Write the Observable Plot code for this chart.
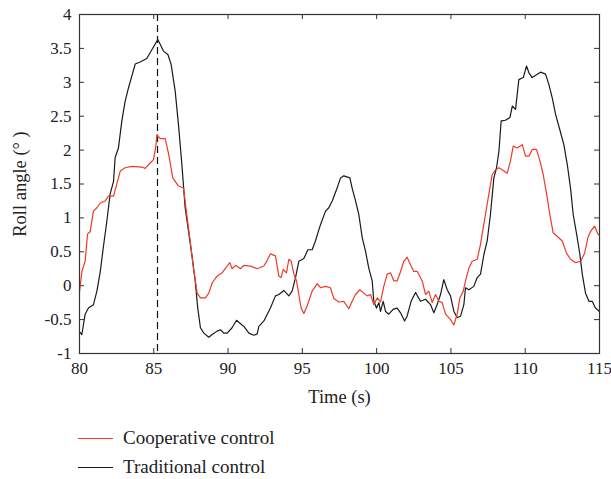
<!DOCTYPE html>
<html>
<head>
<meta charset="utf-8">
<script src="https://cdn.jsdelivr.net/npm/d3@7"></script>
<script src="https://cdn.jsdelivr.net/npm/@observablehq/plot@0.6"></script>
<style>
  html, body { margin: 0; padding: 0; background: #fff; }
  #wrap { position: relative; width: 611px; height: 479px; font-family: "Liberation Serif", "DejaVu Serif", serif; }
  .leg { position: absolute; left: 78px; font-size: 19px; color: #222; display: flex; align-items: center; line-height: 20px; }
  .leg .sw { width: 35px; height: 0; border-top: 1.3px solid; margin-right: 10px; }
  svg [aria-label="x-axis label"], svg [aria-label="y-axis label"] { font-size: 18.5px; }
</style>
</head>
<body>
<div id="wrap">
  <div id="chart"></div>
</div>
<script>
// Time (s) and roll angle (°)
const coopTime = [80.0,80.16,80.38,80.54,80.72,80.94,81.17,81.4,81.73,81.95,82.29,82.5,82.74,83.07,83.52,84.2,84.42,84.76,84.98,85.14,85.21,85.43,85.77,86.0,86.28,86.66,87.0,87.22,87.45,87.67,87.92,88.14,88.48,88.7,88.93,89.26,89.6,89.83,90.12,90.27,90.5,90.84,91.06,91.51,91.96,92.41,92.63,92.85,93.19,93.42,93.57,93.71,93.93,94.09,94.25,94.43,94.61,94.76,94.92,95.1,95.32,95.66,96.0,96.22,96.56,96.89,97.12,97.46,97.79,98.13,98.35,98.58,98.87,99.14,99.36,99.59,99.81,100.04,100.26,100.48,100.71,100.93,101.16,101.38,101.61,101.83,102.05,102.28,102.5,102.73,103.07,103.29,103.51,103.74,103.96,104.19,104.41,104.64,104.97,105.2,105.42,105.6,105.83,105.98,106.21,106.43,106.77,106.99,107.17,107.4,107.62,107.78,108.0,108.23,108.45,108.79,109.01,109.19,109.46,109.8,110.02,110.25,110.47,110.76,110.99,111.21,111.44,111.66,111.88,112.15,112.49,112.78,113.05,113.39,113.73,114.0,114.22,114.4,114.67,114.9,115.0];
const coopRoll = [-0.1,0.21,0.36,0.76,0.8,1.1,1.15,1.22,1.25,1.32,1.32,1.49,1.69,1.74,1.76,1.75,1.73,1.81,1.86,2.06,2.23,2.17,2.17,1.94,1.59,1.47,1.44,1.05,0.66,0.26,-0.11,-0.18,-0.18,-0.11,0.04,0.14,0.19,0.26,0.34,0.25,0.3,0.25,0.3,0.29,0.25,0.29,0.37,0.47,0.44,0.14,0.12,0.24,0.19,0.39,0.36,0.17,0.07,-0.13,-0.33,-0.41,-0.3,-0.08,0.03,-0.03,-0.01,-0.03,-0.19,-0.24,-0.23,-0.34,-0.23,-0.13,-0.06,-0.11,-0.15,-0.13,-0.28,-0.18,-0.24,-0.01,0.17,0.19,0.07,0.07,0.21,0.36,0.42,0.31,0.21,0.21,0.07,-0.13,-0.08,-0.25,-0.13,-0.23,-0.25,-0.42,-0.5,-0.58,-0.42,-0.18,-0.08,0.07,0.26,0.36,0.39,0.61,0.85,1.15,1.44,1.64,1.71,1.74,1.71,1.66,1.84,2.06,2.03,2.08,1.91,1.91,2.01,2.01,1.84,1.64,1.35,1.05,0.78,0.73,0.66,0.48,0.39,0.34,0.36,0.48,0.71,0.8,0.88,0.76,0.75];

const tradTime = [80.0,80.16,80.38,80.6,80.94,81.17,81.4,81.6,81.84,82.06,82.29,82.4,82.62,82.85,83.07,83.3,83.52,83.75,84.08,84.53,84.87,85.27,85.43,85.65,85.95,86.17,86.44,86.66,86.89,87.11,87.34,87.56,87.79,87.96,88.14,88.37,88.7,88.93,89.26,89.49,89.71,89.94,90.27,90.57,90.84,91.06,91.4,91.73,91.96,92.07,92.41,92.85,93.19,93.42,93.75,94.09,94.31,94.54,94.76,95.1,95.37,95.66,95.88,96.22,96.56,96.78,97.01,97.34,97.57,97.79,98.2,98.35,98.58,98.8,99.03,99.25,99.47,99.7,99.81,99.99,100.15,100.26,100.44,100.6,100.82,101.11,101.38,101.61,101.88,102.05,102.32,102.62,102.95,103.29,103.63,103.85,104.07,104.3,104.52,104.75,104.97,105.2,105.42,105.65,105.87,105.98,106.21,106.54,106.77,106.99,107.22,107.44,107.66,107.89,108.07,108.23,108.38,108.67,108.97,109.13,109.35,109.57,109.87,110.09,110.25,110.47,110.76,111.03,111.37,111.59,111.82,112.04,112.33,112.6,112.83,113.05,113.23,113.46,113.68,113.84,114.06,114.29,114.51,114.73,115.0];
const tradRoll = [-0.68,-0.72,-0.42,-0.33,-0.28,-0.08,0.21,0.56,0.95,1.35,1.54,1.89,2.03,2.43,2.72,2.92,3.09,3.27,3.3,3.35,3.48,3.63,3.56,3.46,3.41,3.26,2.87,2.38,1.79,1.15,0.8,0.46,0.07,-0.33,-0.62,-0.7,-0.76,-0.72,-0.67,-0.65,-0.7,-0.7,-0.62,-0.51,-0.56,-0.6,-0.7,-0.73,-0.71,-0.6,-0.52,-0.33,-0.15,-0.13,-0.07,-0.15,-0.08,0.12,0.36,0.4,0.53,0.53,0.66,0.9,1.1,1.15,1.25,1.44,1.59,1.62,1.59,1.44,1.25,1.05,0.71,0.51,0.26,0.07,-0.23,-0.33,-0.25,-0.38,-0.23,-0.38,-0.42,-0.35,-0.33,-0.4,-0.52,-0.45,-0.23,-0.1,-0.23,-0.2,-0.28,-0.4,-0.28,-0.13,0.09,-0.06,-0.15,-0.38,-0.47,-0.45,-0.28,-0.03,-0.06,-0.01,0.12,0.17,0.46,0.66,1.05,1.59,1.74,1.98,2.43,2.44,2.48,2.65,2.6,3.04,3.07,3.24,3.14,3.07,3.11,3.15,3.12,2.97,2.77,2.53,2.3,2.08,1.79,1.44,1.05,0.76,0.46,0.17,-0.11,-0.23,-0.23,-0.33,-0.38];

const markerTime = [85.25];
const xTicks = [80, 85, 90, 95, 100, 105, 110, 115];
const yTicks = [-1, -0.5, 0, 0.5, 1, 1.5, 2, 2.5, 3, 3.5, 4];
const seriesNames = ["Cooperative control", "Traditional control"];
const seriesColors = ["#ee3a26", "#1a1a1a"];

const coop = coopTime.map((t, i) => ({t, v: coopRoll[i]}));
const trad = tradTime.map((t, i) => ({t, v: tradRoll[i]}));

const W = 611, H = 415, mt = 14, mb = 62, ml = 79, mr = 12;
const innerH = H - mt - mb;
const innerW = W - ml - mr;
const innerX = xTicks.slice(1, -1);
const innerY = yTicks.slice(1, -1);

const chart = Plot.plot({
  width: W, height: H,
  marginTop: mt, marginBottom: mb, marginLeft: ml, marginRight: mr,
  style: {fontFamily: '"Liberation Serif", "DejaVu Serif", serif', fontSize: "17px", color: "#222", background: "#fff"},
  x: {domain: [80, 115]},
  y: {domain: [-1, 4]},
  marks: [
    Plot.axisX({ticks: xTicks, tickSize: 0, tickPadding: 8, tickFormat: d => String(d),
      label: "Time (s)", labelAnchor: "center", labelArrow: "none", labelOffset: 49, fontSize: 17}),
    Plot.axisY({ticks: yTicks, tickSize: 0, tickPadding: 8, tickFormat: d => String(d),
      label: "Roll angle (° )", labelAnchor: "center", labelArrow: "none", labelOffset: 67, fontSize: 17}),
    Plot.tickX(innerX, {x: d => d, insetTop: innerH - 5, stroke: "#333", strokeWidth: 1}),
    Plot.tickX(innerX, {x: d => d, insetBottom: innerH - 5, stroke: "#333", strokeWidth: 1}),
    Plot.tickY(innerY, {y: d => d, insetRight: innerW - 5, stroke: "#333", strokeWidth: 1}),
    Plot.tickY(innerY, {y: d => d, insetLeft: innerW - 5, stroke: "#333", strokeWidth: 1}),
    Plot.ruleX(markerTime, {x: d => d, stroke: "#111", strokeWidth: 1.2, strokeDasharray: "7,4"}),
    Plot.line(trad, {x: "t", y: "v", stroke: seriesColors[1], strokeWidth: 1.2}),
    Plot.line(coop, {x: "t", y: "v", stroke: seriesColors[0], strokeWidth: 1.2}),
    Plot.frame({stroke: "#333", strokeWidth: 1.2})
  ]
});
document.getElementById("chart").appendChild(chart);

const wrap = document.getElementById("wrap");
seriesNames.forEach((name, i) => {
  const d = document.createElement("div");
  d.className = "leg";
  d.style.top = (428 + i * 29) + "px";
  const sw = document.createElement("span");
  sw.className = "sw";
  sw.style.borderTopColor = seriesColors[i];
  const tx = document.createElement("span");
  tx.textContent = name;
  d.appendChild(sw); d.appendChild(tx);
  wrap.appendChild(d);
});
</script>
</body>
</html>
